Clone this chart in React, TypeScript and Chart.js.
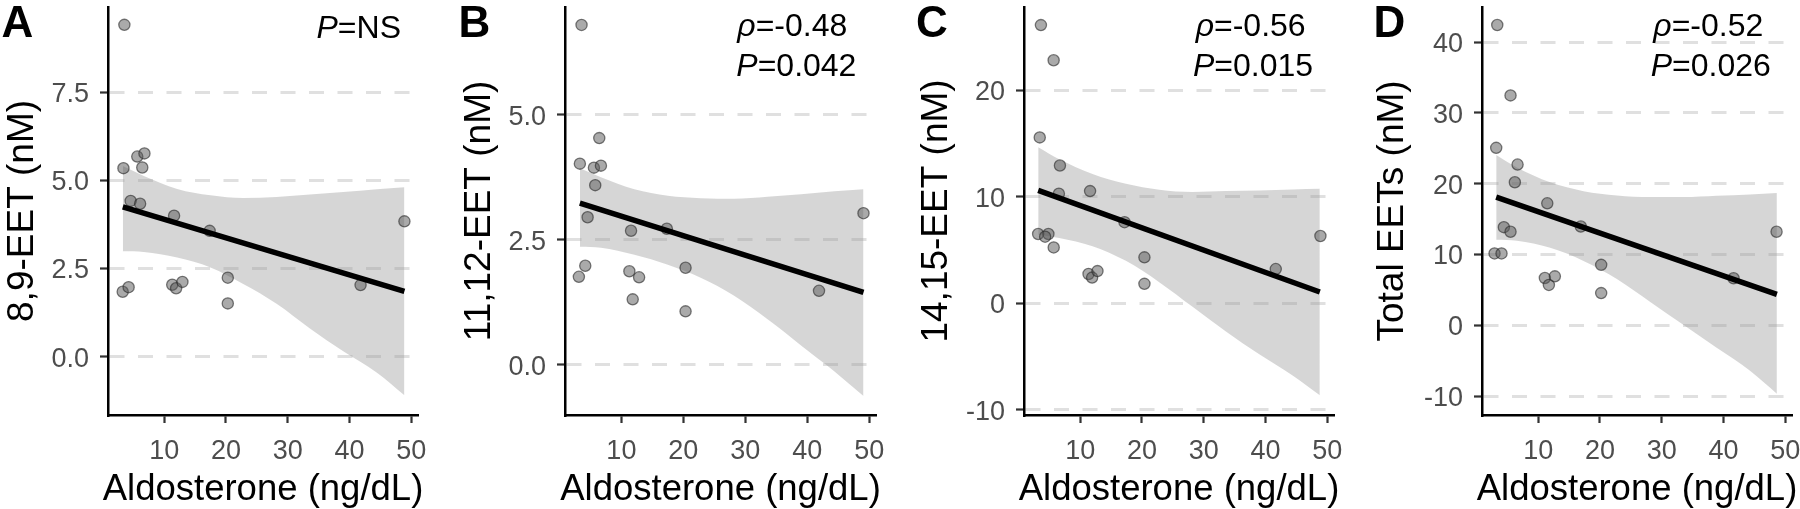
import React, { useEffect, useRef } from "react";
import { Chart, registerables } from "chart.js";

Chart.register(...registerables);

const FONT = "'Liberation Sans', Arial, Helvetica, sans-serif";

// ---------- shared axis ----------
const xTicks = [10, 20, 30, 40, 50];
const xTitle = "Aldosterone (ng/dL)";

// ---------- Panel A : 8,9-EET ----------
const A_x = [3.55, 3.4, 5.64, 6.8, 6.45, 4.57, 6.1, 11.6, 17.36, 3.28, 4.24, 11.3, 11.93, 12.95, 20.3, 20.3, 41.8, 48.9];
const A_y = [9.42, 5.35, 5.68, 5.77, 5.37, 4.42, 4.34, 4.0, 3.57, 1.84, 1.97, 2.04, 1.94, 2.12, 2.24, 1.51, 2.03, 3.84];
const A_fitX = [3.3, 48.9];
const A_fitY = [4.25, 1.85];
const A_bandX = [3.3, 6.7, 12.1, 17.5, 22.8, 28.2, 33.6, 39.0, 44.4, 48.9];
const A_bandHi = [5.41, 5.13, 4.76, 4.58, 4.5, 4.53, 4.6, 4.67, 4.75, 4.81];
const A_bandLo = [2.99, 2.97, 2.81, 2.53, 2.06, 1.5, 0.8, 0.15, -0.45, -1.1];
const A_yTicks = [0, 2.5, 5, 7.5];

// ---------- Panel B : 11,12-EET ----------
const B_x = [3.57, 3.3, 6.43, 5.57, 6.7, 5.78, 4.55, 11.56, 17.34, 3.14, 4.17, 11.29, 12.86, 11.83, 20.36, 20.36, 41.9, 49.08];
const B_y = [6.79, 4.02, 4.53, 3.94, 3.98, 3.59, 2.95, 2.68, 2.72, 1.76, 1.98, 1.87, 1.75, 1.31, 1.94, 1.07, 1.48, 3.03];
const B_fitX = [3.3, 49.08];
const B_fitY = [3.23, 1.45];
const B_bandX = [3.3, 6.7, 12.1, 17.5, 22.8, 28.2, 33.6, 39.0, 44.4, 49.08];
const B_bandHi = [3.93, 3.75, 3.51, 3.38, 3.33, 3.32, 3.36, 3.41, 3.47, 3.51];
const B_bandLo = [2.36, 2.34, 2.2, 2.0, 1.74, 1.38, 0.91, 0.39, -0.13, -0.62];
const B_yTicks = [0, 2.5, 5];

// ---------- Panel C : 14,15-EET ----------
const C_x = [3.64, 5.7, 3.45, 6.72, 6.55, 11.6, 17.18, 3.19, 4.85, 4.32, 5.71, 11.35, 11.93, 12.8, 20.4, 20.4, 41.67, 48.9];
const C_y = [26.1, 22.8, 15.56, 12.92, 10.28, 10.52, 7.6, 6.49, 6.49, 6.24, 5.23, 2.74, 2.4, 3.01, 4.3, 1.81, 3.2, 6.3];
const C_fitX = [3.2, 48.8];
const C_fitY = [10.58, 1.05];
const C_bandX = [3.2, 6.6, 12.0, 17.4, 22.8, 28.2, 33.6, 39.0, 44.4, 48.8];
const C_bandHi = [14.64, 13.5, 12.12, 11.2, 10.64, 10.43, 10.52, 10.58, 10.67, 10.74];
const C_bandLo = [6.43, 6.12, 5.35, 3.97, 1.97, -0.34, -2.65, -4.8, -6.8, -8.65];
const C_yTicks = [-10, 0, 10, 20];

// ---------- Panel D : Total EETs ----------
const D_x = [3.37, 5.52, 3.2, 6.66, 6.22, 11.47, 16.9, 4.44, 5.52, 2.93, 4.06, 11.08, 11.73, 12.7, 20.2, 20.2, 41.64, 48.6];
const D_y = [42.4, 32.46, 25.05, 22.69, 20.19, 17.22, 13.94, 13.85, 13.2, 10.14, 10.14, 6.67, 5.69, 6.9, 8.53, 4.54, 6.63, 13.2];
const D_fitX = [3.2, 48.65];
const D_fitY = [18.1, 4.36];
const D_bandX = [3.2, 6.55, 11.94, 17.34, 22.74, 28.15, 33.5, 38.9, 44.3, 48.65];
const D_bandHi = [24.03, 22.28, 20.19, 18.94, 18.33, 18.11, 18.11, 18.29, 18.47, 18.67];
const D_bandLo = [12.08, 11.94, 10.93, 9.08, 6.53, 3.29, 0.05, -3.19, -6.43, -9.67];
const D_yTicks = [-10, 0, 10, 20, 30, 40];

type Part = [string, boolean];

type Panel = {
  key: string;
  letter: string;
  yTitle: string;
  left: number; // canvas left in page
  axisW: number; // y axis box width
  plotW: number;
  yMin: number;
  yMax: number;
  yTicks: number[];
  decimals: number;
  px: number[];
  py: number[];
  fitX: number[];
  fitY: number[];
  bandX: number[];
  bandHi: number[];
  bandLo: number[];
  letterX: number;
  yTitleX: number;
  annot: { x: number; y: number; parts: Part[] }[];
};

const CANVAS_W = 460;
const CANVAS_H = 509;
const X_AXIS_H = 94;

const panels: Panel[] = [
  {
    key: "A", letter: "A", yTitle: "8,9-EET (nM)", left: 0, axisW: 108, plotW: 310,
    yMin: -1.66, yMax: 9.93, yTicks: A_yTicks, decimals: 1,
    px: A_x, py: A_y, fitX: A_fitX, fitY: A_fitY, bandX: A_bandX, bandHi: A_bandHi, bandLo: A_bandLo,
    letterX: 1.5, yTitleX: 33.3,
    annot: [{ x: 316.5, y: 38.3, parts: [["P", true], ["=NS", false]] }],
  },
  {
    key: "B", letter: "B", yTitle: "11,12-EET (nM)", left: 450, axisW: 115, plotW: 311,
    yMin: -1.0, yMax: 7.15, yTicks: B_yTicks, decimals: 1,
    px: B_x, py: B_y, fitX: B_fitX, fitY: B_fitY, bandX: B_bandX, bandHi: B_bandHi, bandLo: B_bandLo,
    letterX: 8.5, yTitleX: 40,
    annot: [
      { x: 287.3, y: 36.3, parts: [["ρ", true], ["=-0.48", false]] },
      { x: 286.3, y: 76, parts: [["P", true], ["=0.042", false]] },
    ],
  },
  {
    key: "C", letter: "C", yTitle: "14,15-EET (nM)", left: 900, axisW: 124, plotW: 310,
    yMin: -10.5, yMax: 27.81, yTicks: C_yTicks, decimals: 0,
    px: C_x, py: C_y, fitX: C_fitX, fitY: C_fitY, bandX: C_bandX, bandHi: C_bandHi, bandLo: C_bandLo,
    letterX: 16, yTitleX: 46.7,
    annot: [
      { x: 295.7, y: 36.3, parts: [["ρ", true], ["=-0.56", false]] },
      { x: 293, y: 76, parts: [["P", true], ["=0.015", false]] },
    ],
  },
  {
    key: "D", letter: "D", yTitle: "Total EETs (nM)", left: 1350, axisW: 132, plotW: 310,
    yMin: -12.68, yMax: 44.96, yTicks: D_yTicks, decimals: 0,
    px: D_x, py: D_y, fitX: D_fitX, fitY: D_fitY, bandX: D_bandX, bandHi: D_bandHi, bandLo: D_bandLo,
    letterX: 23.4, yTitleX: 53.3,
    annot: [
      { x: 303.3, y: 36.3, parts: [["ρ", true], ["=-0.52", false]] },
      { x: 300.7, y: 76, parts: [["P", true], ["=0.026", false]] },
    ],
  },
];

function drawRich(ctx: CanvasRenderingContext2D, x: number, y: number, parts: Part[], size: number) {
  let cx = x;
  for (const [t, it] of parts) {
    ctx.font = `${it ? "italic " : ""}${size}px ${FONT}`;
    ctx.fillText(t, cx, y);
    cx += ctx.measureText(t).width;
  }
}

function PanelChart({ p }: { p: Panel }) {
  const ref = useRef<HTMLCanvasElement>(null);

  useEffect(() => {
    const canvas = ref.current;
    if (!canvas) return;
    const padR = CANVAS_W - p.axisW - p.plotW;

    const textPlugin = {
      id: "panelText" + p.key,
      afterDraw(chart: any) {
        const ctx: CanvasRenderingContext2D = chart.ctx;
        const area = chart.chartArea;
        ctx.save();
        ctx.fillStyle = "#000";
        ctx.textBaseline = "alphabetic";
        // panel letter
        ctx.textAlign = "left";
        ctx.font = `bold 44px ${FONT}`;
        ctx.fillText(p.letter, p.letterX, 36.7);
        // annotation
        for (const a of p.annot) drawRich(ctx, a.x, a.y, a.parts, 32);
        // x title
        ctx.textAlign = "center";
        ctx.font = `36.5px ${FONT}`;
        ctx.fillText(xTitle, (area.left + area.right) / 2, 500);
        // y title
        ctx.save();
        ctx.translate(p.yTitleX, (area.top + area.bottom) / 2);
        ctx.rotate(-Math.PI / 2);
        ctx.font = `37px ${FONT}`;
        ctx.textAlign = "center";
        ctx.fillText(p.yTitle, 0, 0);
        ctx.restore();
        ctx.restore();
      },
    };

    const chart = new Chart(canvas, {
      type: "scatter",
      data: {
        datasets: [
          {
            type: "line",
            data: p.bandX.map((x, i) => ({ x, y: p.bandHi[i] })),
            showLine: true,
            borderColor: "rgba(0,0,0,0)",
            borderWidth: 0,
            pointRadius: 0,
            fill: "+1",
            backgroundColor: "rgba(153,153,153,0.4)",
            cubicInterpolationMode: "monotone",
            order: 3,
          } as any,
          {
            type: "line",
            data: p.bandX.map((x, i) => ({ x, y: p.bandLo[i] })),
            showLine: true,
            borderColor: "rgba(0,0,0,0)",
            borderWidth: 0,
            pointRadius: 0,
            fill: false,
            cubicInterpolationMode: "monotone",
            order: 3,
          } as any,
          {
            type: "scatter",
            data: p.px.map((x, i) => ({ x, y: p.py[i] })),
            pointRadius: 5.6,
            pointBackgroundColor: "rgba(85,85,85,0.5)",
            pointBorderColor: "rgba(40,40,40,0.6)",
            pointBorderWidth: 1.3,
            backgroundColor: "rgba(85,85,85,0.5)",
            borderColor: "rgba(40,40,40,0.6)",
            order: 2,
          } as any,
          {
            type: "line",
            data: p.fitX.map((x, i) => ({ x, y: p.fitY[i] })),
            showLine: true,
            borderColor: "#000",
            borderWidth: 5.5,
            borderCapStyle: "butt",
            pointRadius: 0,
            fill: false,
            tension: 0,
            order: 1,
          } as any,
        ],
      },
      options: {
        animation: false,
        responsive: false,
        maintainAspectRatio: false,
        events: [],
        layout: { padding: { left: 0, top: 0, right: padR, bottom: 0 } },
        plugins: {
          legend: { display: false },
          tooltip: { enabled: false },
          title: { display: false },
        },
        scales: {
          x: {
            type: "linear",
            min: 0.9,
            max: 51.1,
            afterBuildTicks: (s: any) => {
              s.ticks = xTicks.map((v) => ({ value: v }));
            },
            afterFit: (s: any) => {
              s.height = X_AXIS_H;
              s.paddingLeft = 0;
              s.paddingRight = 0;
            },
            grid: {
              display: true,
              drawOnChartArea: false,
              drawTicks: true,
              tickLength: 8,
              tickColor: "#333333",
              tickWidth: 2.2,
            },
            border: { display: true, color: "#000", width: 2.5 },
            ticks: {
              font: { size: 27, family: FONT },
              color: "#4d4d4d",
              padding: 12,
              maxRotation: 0,
              autoSkip: false,
              callback: (v: any) => String(v),
            },
          },
          y: {
            type: "linear",
            min: p.yMin,
            max: p.yMax,
            afterBuildTicks: (s: any) => {
              s.ticks = p.yTicks.map((v) => ({ value: v }));
            },
            afterFit: (s: any) => {
              s.width = p.axisW;
              s.paddingTop = 0;
              s.paddingBottom = 0;
            },
            grid: {
              display: true,
              color: "#e0e0e0",
              lineWidth: 3,
              drawOnChartArea: true,
              drawTicks: true,
              tickLength: 8,
              tickColor: "#333333",
              tickWidth: 2.2,
            },
            border: { display: true, color: "#000", width: 2.5, dash: [15, 13.5] },
            ticks: {
              font: { size: 27, family: FONT },
              color: "#4d4d4d",
              padding: 11,
              labelOffset: 2.5,
              autoSkip: false,
              callback: (v: any) => Number(v).toFixed(p.decimals),
            },
          },
        },
      } as any,
      plugins: [textPlugin],
    });
    return () => chart.destroy();
  }, [p]);

  return (
    <canvas
      ref={ref}
      width={CANVAS_W}
      height={CANVAS_H}
      style={{ position: "absolute", left: p.left, top: 0, width: CANVAS_W, height: CANVAS_H }}
    />
  );
}

export default function App() {
  return (
    <div
      style={{
        position: "fixed",
        left: 0,
        top: 0,
        width: 1800,
        height: 509,
        overflow: "hidden",
        background: "#ffffff",
      }}
    >
      {panels.map((p) => (
        <PanelChart key={p.key} p={p} />
      ))}
    </div>
  );
}
